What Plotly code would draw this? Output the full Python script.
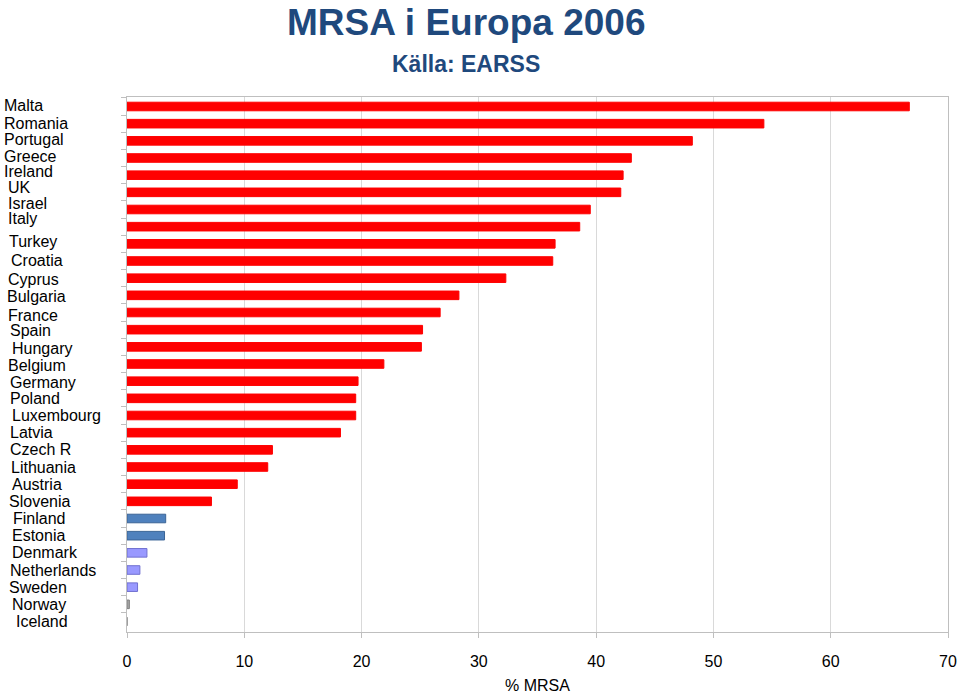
import plotly.graph_objects as go

countries = ["Malta", "Romania", "Portugal", "Greece", "Ireland", "UK", "Israel", "Italy",
             "Turkey", "Croatia", "Cyprus", "Bulgaria", "France", "Spain", "Hungary", "Belgium",
             "Germany", "Poland", "Luxembourg", "Latvia", "Czech R", "Lithuania", "Austria",
             "Slovenia", "Finland", "Estonia", "Denmark", "Netherlands", "Sweden", "Norway", "Iceland"]
mrsa = [66.7, 54.3, 48.2, 43.0, 42.3, 42.1, 39.5, 38.6, 36.5, 36.3, 32.3, 28.3, 26.7, 25.2, 25.1,
        21.9, 19.7, 19.5, 19.5, 18.2, 12.4, 12.0, 9.4, 7.2, 3.3, 3.2, 1.7, 1.1, 0.9, 0.2, 0.0]
groups = ["high"] * 24 + ["mid"] * 2 + ["low"] * 3 + ["min"] * 2
xticks = [0, 10, 20, 30, 40, 50, 60, 70]

# styling
fill = {"high": "#FF0000", "mid": "#4F81BD", "low": "#9999FF", "min": "#A6A6A6"}
edge = {"high": "#FF0000", "mid": "#3A6496", "low": "#7070D0", "min": "#808080"}
label_indent = [2, 2, 2, 2, 2, 6, 6, 6, 7, 9, 6, 5, 6, 8, 10, 6, 8, 8, 10, 8, 8, 9, 10, 7,
                11, 10, 10, 8, 7, 10, 14]
label_yshift = [1, 0, 1, 2, 4, 5, 6, 8, 2, 1, -1, -1, -3, -1, -2, -1, -1, 0, 0, 0, 0, 0, 0, 0,
                0, 0, 0, 0, 0, 0, 0]
narrow = "Liberation Sans Narrow, Arial Narrow, Liberation Sans, Arial, sans-serif"
LEFT = 127

fig = go.Figure()
fig.add_trace(go.Bar(
    x=mrsa, y=countries, orientation="h",
    marker=dict(color=[fill[g] for g in groups],
                line=dict(color=[edge[g] for g in groups], width=1)),
    width=0.5, showlegend=False, hoverinfo="x+y",
))

for c, ind, ys in zip(countries, label_indent, label_yshift):
    fig.add_annotation(x=0, xref="paper", y=c, yref="y", text=c, showarrow=False,
                       xanchor="left", xshift=ind - LEFT, yshift=ys,
                       font=dict(family="Liberation Sans, Arial, sans-serif", size=16, color="black"))

fig.add_annotation(x=0.5, xref="paper", y=1, yref="paper", yanchor="middle", yshift=75,
                   text="<b>MRSA i Europa 2006</b>", showarrow=False, xshift=-72,
                   font=dict(family=narrow, size=37, color="#1F497D"))
fig.add_annotation(x=0.5, xref="paper", y=1, yref="paper", yanchor="middle", yshift=33,
                   text="<b>Källa: EARSS</b>", showarrow=False, xshift=-72,
                   font=dict(family=narrow, size=23, color="#1F497D"))
fig.add_annotation(x=0.5, xref="paper", y=0, yref="paper", yanchor="middle", yshift=-53,
                   text="% MRSA", showarrow=False, xshift=0,
                   font=dict(family=narrow, size=16, color="black"))

fig.update_layout(
    width=959, height=693,
    margin=dict(l=LEFT, r=11, t=97, b=61, autoexpand=False),
    paper_bgcolor="white", plot_bgcolor="white",
    xaxis=dict(range=[0, 70], tickvals=xticks, ticktext=[str(v) for v in xticks],
               showgrid=True, gridcolor="#D9D9D9", gridwidth=1,
               showline=True, linecolor="#BFBFBF", linewidth=1, mirror=True,
               ticks="outside", ticklen=5, tickcolor="#BFBFBF",
               ticklabelstandoff=10, zeroline=False,
               tickfont=dict(family=narrow, size=16, color="black")),
    yaxis=dict(autorange="reversed", showticklabels=False, tickson="boundaries",
               ticks="outside", ticklen=5, tickcolor="#BFBFBF",
               showline=True, linecolor="#BFBFBF", linewidth=1, mirror=True,
               showgrid=False),
    bargap=0.5,
)

fig.write_html("out.html", config={"displayModeBar": False},
               post_script="document.body.style.margin='0';document.body.style.overflow='hidden';")
